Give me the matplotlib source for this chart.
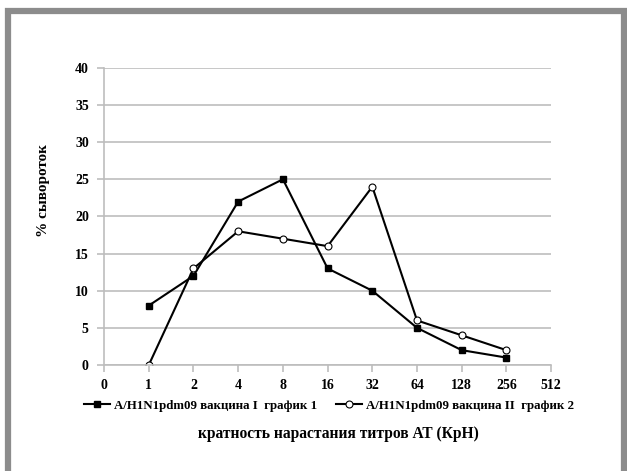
"""
Доля сывороток по кратности нарастания титров АТ для двух вакцин.
"""

import matplotlib.pyplot as plt
from matplotlib.patches import Rectangle

PLOT_FILE = "out.png"

# Категории оси X (кратность нарастания)
CATEGORIES = ["0", "1", "2", "4", "8", "16", "32", "64", "128", "256", "512"]
POINT_LABELS = ["1", "2", "4", "8", "16", "32", "64", "128", "256"]

# % сывороток
SERIES_1 = [8, 12, 22, 25, 13, 10, 5, 2, 1]
SERIES_2 = [0, 13, 18, 17, 16, 24, 6, 4, 2]

LABEL_1 = "A/H1N1pdm09 вакцина I  график 1"
LABEL_2 = "A/H1N1pdm09 вакцина II  график 2"

Y_TICKS = [0, 5, 10, 15, 20, 25, 30, 35, 40]


def plot_chart():
    plt.rcParams['font.family'] = ['Liberation Serif', 'DejaVu Serif']
    plt.rcParams['font.weight'] = 'bold'

    fig = plt.figure(figsize=(6.27, 4.71), dpi=100)
    ax = fig.add_axes([0.166, 0.225, 0.713, 0.631])

    # рамка вокруг рисунка
    fig.patches.append(Rectangle((7.5 / 627, -0.1), (624 - 7.5) / 627, 1.1 - 10.5 / 471,
                                 transform=fig.transFigure, fill=False,
                                 edgecolor='#8c8c8c', linewidth=4.5))

    x = [CATEGORIES.index(c) for c in POINT_LABELS]

    ax.plot(x, SERIES_1, color='black', linewidth=1.5, marker='s', markersize=5,
            markerfacecolor='black', markeredgecolor='black', label=LABEL_1)
    ax.plot(x, SERIES_2, color='black', linewidth=1.5, marker='o', markersize=5,
            markerfacecolor='white', markeredgecolor='black', markeredgewidth=0.8,
            label=LABEL_2)

    ax.set_xlim(0, len(CATEGORIES) - 1)
    ax.set_xticks(range(len(CATEGORIES)))
    ax.set_xticklabels(CATEGORIES)

    ax.set_ylim(0, 40)
    ax.set_yticks(Y_TICKS)
    ax.yaxis.grid(True, color='#bdbdbd', linewidth=1.2)
    ax.set_axisbelow(True)

    for side in ['top', 'right']:
        ax.spines[side].set_visible(False)
    for side in ['left', 'bottom']:
        ax.spines[side].set_color('#bdbdbd')
        ax.spines[side].set_linewidth(1.2)

    ax.tick_params(axis='both', colors='#bdbdbd', length=5, width=1.2,
                   labelcolor='black', labelsize=10)
    ax.tick_params(axis='x', pad=5)
    ax.tick_params(axis='y', pad=6)

    ax.set_ylabel('% сывороток', fontsize=11, fontweight='bold')
    ax.yaxis.set_label_coords(-0.12, 0.586)
    ax.set_xlabel('кратность нарастания титров АТ (КрН)', fontsize=11.2,
                  fontweight='bold')
    ax.xaxis.set_label_coords(0.523, -0.205)

    ax.legend(loc='upper center', bbox_to_anchor=(0.503, -0.1), ncol=2,
              frameon=False, fontsize=9.3, handlelength=2.0, handletextpad=0.3,
              columnspacing=1.5, borderaxespad=0)

    plt.savefig(PLOT_FILE)


if __name__ == "__main__":
    plot_chart()
